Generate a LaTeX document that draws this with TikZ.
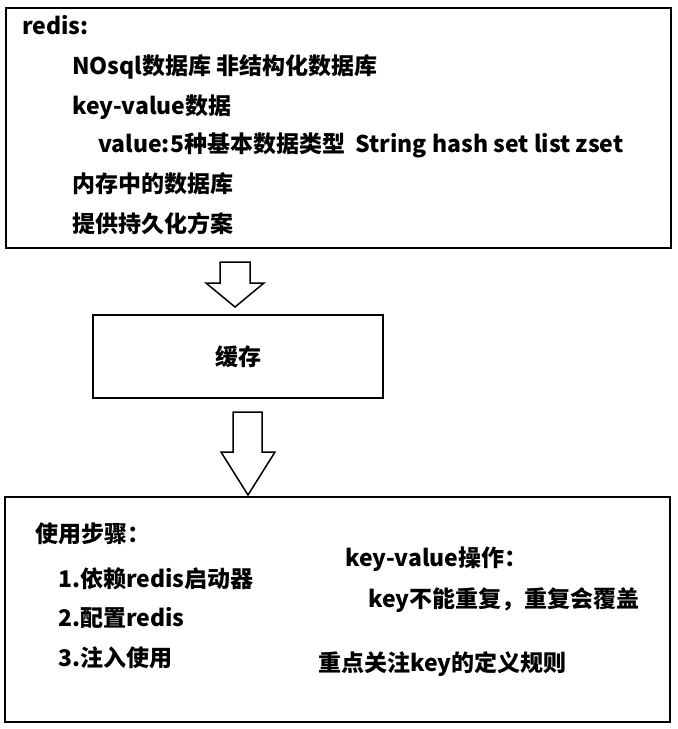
\documentclass[tikz,border=0pt]{standalone}
\usepackage{fontspec}
\setmainfont{Noto Sans CJK SC}
\usetikzlibrary{positioning}

\begin{document}
\begin{tikzpicture}[x=1pt,y=-1pt]
\tikzstyle{box}=[draw=black,line width=1.5pt,inner sep=0pt]
\tikzstyle{txt}=[anchor=base west,inner sep=0pt,font=\fontsize{23}{23}\selectfont\bfseries]
\tikzstyle{blockarrow}=[draw=black,line width=1.5pt,fill=white,line join=miter]
\useasboundingbox[fill=white] (0,0) rectangle (678,729);
% top box
\node[box,minimum width=665pt,minimum height=240pt] (redis) at (338.5,128) {};
\node[txt] (title) at (22,34) {redis:};
\node[txt] (nosql) at (72,74) {NOsql数据库 非结构化数据库};
\node[txt] (kv) at (72,114) {key-value数据};
\node[txt] (types) at (98,152) {value:5种基本数据类型~~String hash set list zset};
\node[txt] (mem) at (72,192) {内存中的数据库};
\node[txt] (persist) at (72,232) {提供持久化方案};
% middle box
\node[box,minimum width=290pt,minimum height=83pt] (cache) at (238,356.5) {};
\node[txt,anchor=center] (cachetxt) at (cache.center) {缓存};
% bottom box
\node[box,minimum width=665pt,minimum height=225pt] (usage) at (337.5,609.5) {};
\node[txt] (steps) at (35,542) {使用步骤：};
\node[txt] (step1) at (58,587) {1.依赖redis启动器};
\node[txt] (step2) at (58,626) {2.配置redis};
\node[txt] (step3) at (58,666) {3.注入使用};
\node[txt] (kvop) at (345,566) {key-value操作：};
\node[txt] (kvrule) at (368,607) {key不能重复，重复会覆盖};
\node[txt] (keydef) at (318,671) {重点关注key的定义规则};
% arrows
\draw[blockarrow] (220,262) -- (250,262) -- (250,283) -- (264,283) -- (235,307)
  -- (206,283) -- (220,283) -- cycle;
\draw[blockarrow] (233,412) -- (262,412) -- (262,452) -- (275,452) -- (248,495)
  -- (221,452) -- (233,452) -- cycle;
\end{tikzpicture}
\end{document}
